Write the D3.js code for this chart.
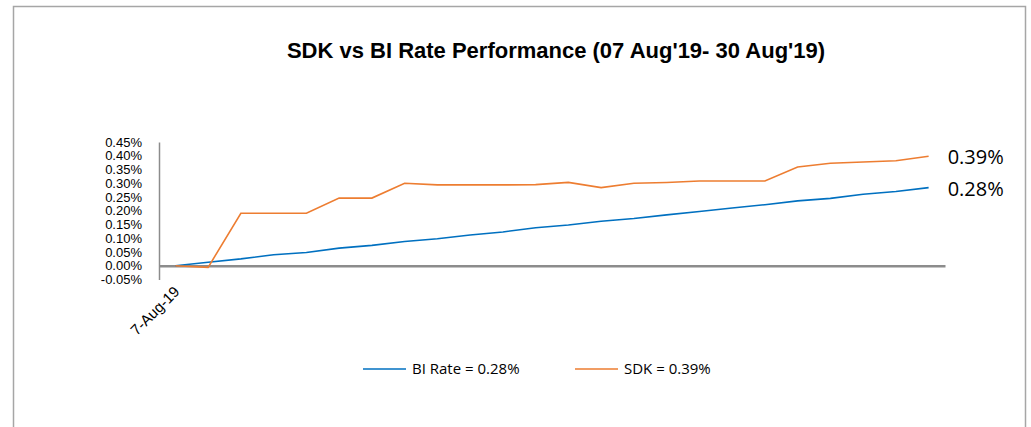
<!DOCTYPE html>
<html>
<head>
<meta charset="utf-8">
<script src="https://cdn.jsdelivr.net/npm/d3@7"></script>
<style>
  body { margin: 0; background: #fff; }
  svg { display: block; font-family: "Open Sans", "Liberation Sans", Arial, sans-serif; }
</style>
</head>
<body>
<div id="chart-area"></div>
<script>
// daily points, 7 Aug 2019 .. 30 Aug 2019
const dates = d3.timeDay.range(new Date(2019, 7, 7), new Date(2019, 7, 31))
const biRate = [0.000, 0.013, 0.025, 0.040, 0.048, 0.064, 0.074, 0.088, 0.098, 0.112, 0.123, 0.138,
  0.148, 0.162, 0.172, 0.185, 0.197, 0.210, 0.222, 0.236, 0.245, 0.260, 0.270, 0.284]
const sdk = [0.000, -0.006, 0.191, 0.191, 0.191, 0.246, 0.246, 0.300, 0.294, 0.294, 0.294, 0.295,
  0.303, 0.284, 0.300, 0.303, 0.308, 0.308, 0.308, 0.359, 0.373, 0.377, 0.382, 0.398]
const yTicks = [-0.05, 0, 0.05, 0.10, 0.15, 0.20, 0.25, 0.30, 0.35, 0.40, 0.45]
const seriesNames = ["BI Rate = 0.28%", "SDK = 0.39%"]
const endLabels = ["0.28%", "0.39%"]
const colors = ["#0070C0", "#ED7D31"]

const W = 1031, H = 427
const MARGIN = { LEFT: 159, TOP: 142 }

const svg = d3.select("#chart-area").append("svg")
  .attr("width", W)
  .attr("height", H)

// chart frame
svg.append("path")
  .attr("d", `M13.5,${H} V6.5 H1025.5 V${H}`)
  .attr("fill", "none")
  .attr("stroke", "#a6a6a6")
  .attr("stroke-width", 1.5)

// title
svg.append("text")
  .attr("x", 556)
  .attr("y", 58)
  .attr("text-anchor", "middle")
  .attr("font-family", "'Liberation Sans', Arial, sans-serif")
  .attr("font-size", "22px")
  .attr("font-weight", "bold")
  .attr("fill", "#000")
  .text("SDK vs BI Rate Performance (07 Aug'19- 30 Aug'19)")

const g = svg.append("g")
  .attr("transform", `translate(${MARGIN.LEFT}, ${MARGIN.TOP})`)

const x = d3.scaleBand()
  .domain(dates)
  .range([0, 786])

const y = d3.scaleLinear()
  .domain([-0.05, 0.45])
  .range([137.5, 0])

const fmtDate = d3.timeFormat("%-d-%b-%y")

// y axis
const yAxisCall = d3.axisLeft(y)
  .tickValues(yTicks)
  .tickSize(0)
  .tickPadding(17)
  .tickFormat(d => d.toFixed(2) + "%")
g.append("g")
  .attr("class", "y axis")
  .call(yAxisCall)
  .call(a => a.select(".domain").attr("stroke", "#8c8c8c").attr("stroke-width", 1.5))
  .selectAll("text")
    .attr("font-size", "13px")
    .attr("fill", "#000")

// x axis at zero
const xAxisCall = d3.axisBottom(x)
  .tickValues([dates[0]])
  .tickSize(0)
  .tickFormat(fmtDate)
g.append("g")
  .attr("class", "x axis")
  .attr("transform", `translate(0, ${y(0)})`)
  .call(xAxisCall)
  .call(a => a.select(".domain").attr("stroke", "#8c8c8c").attr("stroke-width", 2.5))
  .selectAll("text")
    .attr("font-size", "15px")
    .attr("fill", "#000")
    .attr("text-anchor", "end")
    .attr("dy", "0")
    .attr("transform", `translate(3, ${y(-0.05) - y(0) + 11}) rotate(-45)`)

// lines
const series = [biRate, sdk]
const line = d3.line()
  .x((d, i) => x(dates[i]) + x.bandwidth() / 2)
  .y(d => y(d))

series.forEach((s, k) => {
  g.append("path")
    .datum(s)
    .attr("fill", "none")
    .attr("stroke", colors[k])
    .attr("stroke-width", 1.6)
    .attr("d", line)
})

// end value labels
series.forEach((s, k) => {
  g.append("text")
    .attr("x", x(dates[dates.length - 1]) + x.bandwidth() / 2 + 19)
    .attr("y", y(s[s.length - 1]) + 8)
    .attr("font-size", "20px")
    .attr("fill", "#000")
    .text(endLabels[k])
})

// legend
const legendX = [363, 575]
seriesNames.forEach((name, k) => {
  const lg = svg.append("g")
    .attr("transform", `translate(${legendX[k]}, 369)`)
  lg.append("line")
    .attr("x1", 0).attr("x2", 43)
    .attr("y1", 0).attr("y2", 0)
    .attr("stroke", colors[k])
    .attr("stroke-width", 1.6)
  lg.append("text")
    .attr("x", 49)
    .attr("y", 5)
    .attr("font-size", "15px")
    .attr("fill", "#000")
    .text(name)
})
</script>
</body>
</html>
